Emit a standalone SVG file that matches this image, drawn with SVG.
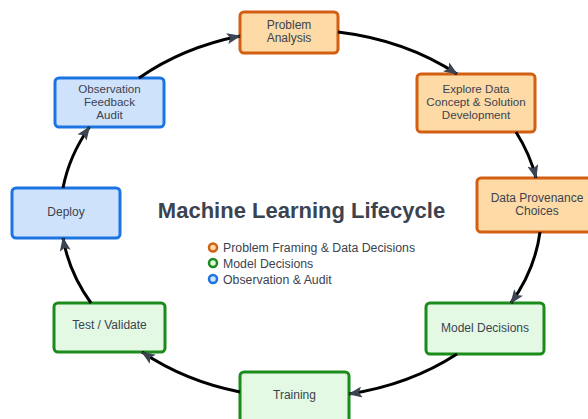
<svg xmlns="http://www.w3.org/2000/svg" width="588" height="419" viewBox="0 0 588 419">
<style>
.n rect{stroke-width:3}
.o rect{fill:#fddaa6;stroke:#d35f12}
.g rect{fill:#e3f9e3;stroke:#1b8c1b}
.b rect{fill:#cfe2fc;stroke:#1c74e3}
text{font-family:"Liberation Sans",Arial,sans-serif;fill:#3c4350}
.n text{font-size:12px;text-anchor:middle}
.n text.m{font-size:11.6px}
.c path{fill:none;stroke:#000;stroke-width:3;marker-end:url(#ah)}
.lg{font-size:12.3px}
</style>
<defs>
<marker id="ah" markerUnits="userSpaceOnUse" viewBox="0 0 14 11" markerWidth="14" markerHeight="11" refX="13" refY="5.5" orient="auto">
<path d="M0,0 L14,5.5 L0,11 L3,5.5 z" fill="#3c4452"/>
</marker>
</defs>
<rect width="588" height="419" fill="#fff"/>
<g id="pa" class="n o"><rect x="240" y="12" width="98" height="41" rx="4"/><text x="289" y="29">Problem</text><text x="289" y="42">Analysis</text></g>
<g id="explore" class="n o"><rect x="417" y="74" width="118" height="58" rx="4"/><text class="m" x="476" y="92.5">Explore Data</text><text class="m" x="476" y="105.5">Concept &amp; Solution</text><text class="m" x="476" y="118.5">Development</text></g>
<g id="dp" class="n o"><rect x="477" y="178" width="120" height="54" rx="4"/><text x="537" y="202">Data Provenance</text><text x="537" y="215">Choices</text></g>
<g id="md" class="n g"><rect x="426" y="303" width="118" height="51" rx="4"/><text x="485" y="332">Model Decisions</text></g>
<g id="train" class="n g"><rect x="240" y="372" width="109" height="52" rx="4"/><text x="294.5" y="399">Training</text></g>
<g id="tv" class="n g"><rect x="54" y="303" width="111" height="49" rx="4"/><text x="109.5" y="329">Test / Validate</text></g>
<g id="deploy" class="n b"><rect x="12" y="188" width="108" height="50" rx="4"/><text x="66" y="216">Deploy</text></g>
<g id="obs" class="n b"><rect x="55" y="78" width="109" height="49" rx="4"/><text class="m" x="109.5" y="92.5">Observation</text><text class="m" x="109.5" y="105.5">Feedback</text><text class="m" x="109.5" y="118.5">Audit</text></g>
<g id="connectors" class="c">
<path d="M338,32 A240,184 0 0 1 457,74"/>
<path d="M516,132 A240,184 0 0 1 536,178"/>
<path d="M540,232 A240,184 0 0 1 511,303"/>
<path d="M457,354 A240,184 0 0 1 349,394"/>
<path d="M240,392 A240,184 0 0 1 142,352"/>
<path d="M91,303 A240,184 0 0 1 63,238"/>
<path d="M63,188 A240,184 0 0 1 89.5,127"/>
<path d="M139,78 A240,184 0 0 1 240,36"/>
</g>
<g id="title"><text x="301.5" y="218" font-size="22" font-weight="bold" text-anchor="middle">Machine Learning Lifecycle</text></g>
<g id="legend">
<circle cx="213" cy="247.5" r="4" fill="#fddaa6" stroke="#d35f12" stroke-width="2.5"/>
<circle cx="213" cy="263" r="4" fill="#e3f9e3" stroke="#1b8c1b" stroke-width="2.5"/>
<circle cx="213" cy="279" r="4" fill="#cfe2fc" stroke="#1c74e3" stroke-width="2.5"/>
<text class="lg" x="223" y="252">Problem Framing &amp; Data Decisions</text>
<text class="lg" x="223" y="267.5">Model Decisions</text>
<text class="lg" x="223" y="283.5">Observation &amp; Audit</text>
</g>
</svg>
